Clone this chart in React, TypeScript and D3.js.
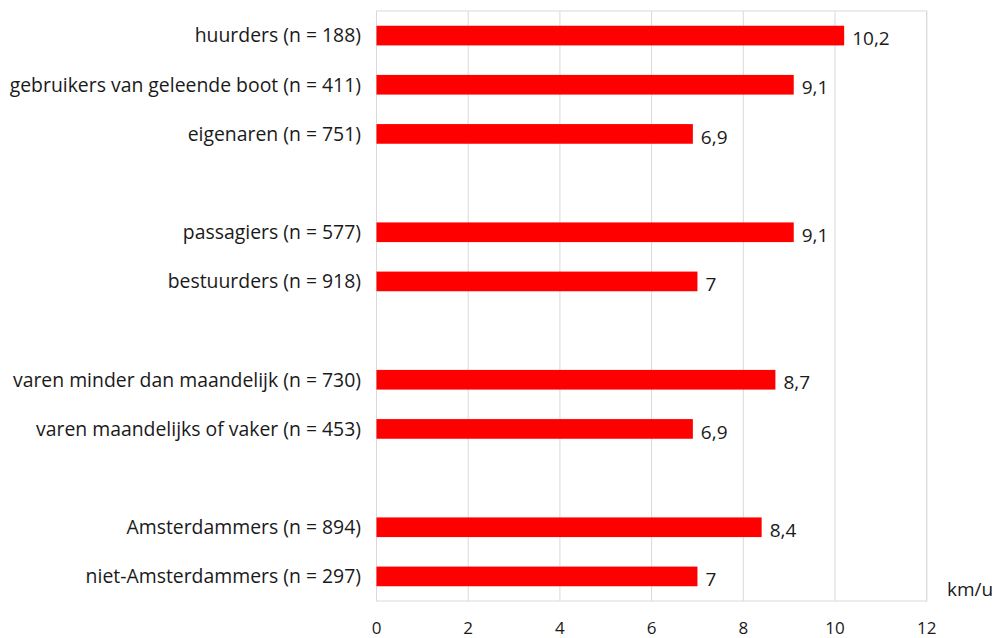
import React from "react";
import * as d3 from "d3";

const categories = [
  "huurders (n = 188)",
  "gebruikers van geleende boot (n = 411)",
  "eigenaren (n = 751)",
  "",
  "passagiers (n = 577)",
  "bestuurders (n = 918)",
  " ",
  "varen minder dan maandelijk (n = 730)",
  "varen maandelijks of vaker (n = 453)",
  "  ",
  "Amsterdammers (n = 894)",
  "niet-Amsterdammers (n = 297)",
];
const values: (number | null)[] = [10.2, 9.1, 6.9, null, 9.1, 7, null, 8.7, 6.9, null, 8.4, 7];
const ticks = [0, 2, 4, 6, 8, 10, 12];
const unitLabel = "km/u";

const W = 997;
const H = 638;
const left = 376.5;
const right = 926.7;
const top = 11;
const bottom = 601;
const font = "'Open Sans', sans-serif";

export default function App() {
  const x = d3.scaleLinear().domain([0, 12]).range([left, right]);
  const y = d3.scaleBand<string>().domain(categories).range([top, bottom]).paddingInner(0.6).paddingOuter(0.3);
  const fmt = (v: number) => String(v).replace(".", ",");
  return (
    <svg width={W} height={H} style={{ position: "absolute", left: 0, top: 0, fontFamily: font }}>
      <rect x={left} y={top} width={right - left} height={bottom - top} fill="none" stroke="#d9d9d9" strokeWidth={1} />
      {ticks.map((t) => (
        <line key={"g" + t} x1={x(t)} x2={x(t)} y1={top} y2={bottom} stroke="#d9d9d9" strokeWidth={1} />
      ))}
      {categories.map((c, i) => {
        const v = values[i];
        if (v == null) return null;
        const yy = y(c)!;
        const bw = y.bandwidth();
        return (
          <g key={i}>
            <rect x={x(0)} y={yy} width={x(v) - x(0)} height={bw} fill="#ff0000" />
            <text x={361} y={yy + bw / 2} dy="0.35em" textAnchor="end" fontSize={19.4} fill="#1a1a1a">
              {c}
            </text>
            <text x={x(v) + 8} y={yy + bw / 2 + 3} dy="0.35em" fontSize={19} fill="#1a1a1a">
              {fmt(v)}
            </text>
          </g>
        );
      })}
      {ticks.map((t) => (
        <text key={"t" + t} x={x(t)} y={634} textAnchor="middle" fontSize={17} fill="#1a1a1a">
          {t}
        </text>
      ))}
      <text x={947} y={589} dy="0.35em" fontSize={19} fill="#1a1a1a">
        {unitLabel}
      </text>
    </svg>
  );
}
